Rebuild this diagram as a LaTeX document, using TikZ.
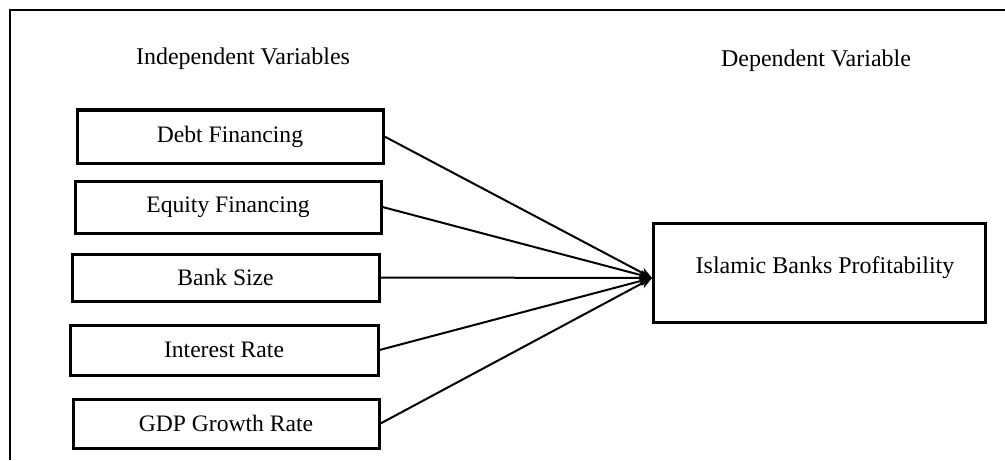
\documentclass[tikz,border=0pt]{standalone}
\usepackage{fontspec}
\setmainfont{Liberation Serif}
\usetikzlibrary{arrows.meta}
\begin{document}
\begin{tikzpicture}[x=0.5pt,y=-0.5pt,
  varbox/.style={draw,line width=1.5pt,rectangle,inner sep=0pt,font=\fontsize{11.8}{13}\selectfont},
  conn/.style={line width=1pt,-{Stealth[length=6pt,width=5pt]}},
  heading/.style={font=\fontsize{12}{14}\selectfont,anchor=base}]
\useasboundingbox (0,0) rectangle (1005,460);
\draw[line width=1.4pt] (10,460) -- (10,10) -- (1005,10);
\node[heading] (indep) at (243,65) {Independent Variables};
\node[heading] (dep) at (816,66.5) {Dependent Variable};
\node[varbox,minimum width=153pt,minimum height=26.5pt] (debt) at (230,136.5) {Debt Financing};
\node[varbox,minimum width=153pt,minimum height=26pt] (equity) at (228,207) {Equity Financing};
\node[varbox,minimum width=153.5pt,minimum height=23.5pt] (size) at (225.5,277.5) {Bank Size};
\node[varbox,minimum width=154pt,minimum height=25pt] (interest) at (224,350) {Interest Rate};
\node[varbox,minimum width=153pt,minimum height=24.5pt] (gdp) at (226,423.5) {GDP Growth Rate};
\node[varbox,minimum width=166pt,minimum height=49.5pt] (prof) at (819,272.5) {};
\node[heading] (proftext) at (825,273) {Islamic Banks Profitability};
\coordinate (tip) at (652,278);
\draw[conn] (debt.east) -- (tip);
\draw[conn] (equity.east) -- (tip);
\draw[conn] (size.east) -- (tip);
\draw[conn] (interest.east) -- (tip);
\draw[conn] (gdp.east) -- (tip);
\end{tikzpicture}
\end{document}
